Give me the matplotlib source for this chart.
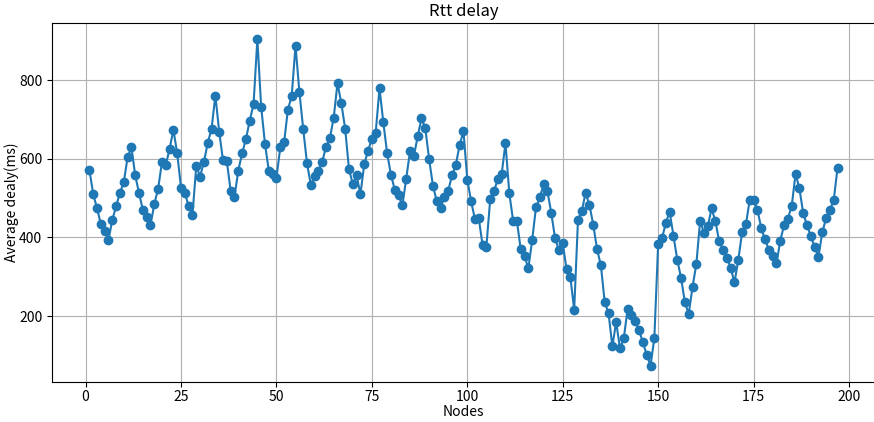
import matplotlib.pyplot as plt

plt.rcParams['font.family'] = ['Noto Sans CJK SC', 'DejaVu Sans']

# Average rtt delay per node
nodes = list(range(1, 198))
delay = [
    572, 510, 474, 434, 417, 394, 445, 480, 514, 540,
    604, 630, 558, 513, 470, 453, 432, 485, 524, 591,
    584, 625, 674, 614, 527, 514, 479, 458, 582, 555,
    593, 640, 677, 761, 669, 596, 594, 519, 503, 570,
    614, 650, 697, 739, 904, 732, 638, 570, 562, 551,
    629, 642, 725, 760, 888, 771, 677, 589, 534, 557,
    570, 593, 631, 652, 705, 793, 741, 677, 574, 536,
    558, 510, 586, 621, 650, 667, 779, 693, 614, 560,
    521, 507, 482, 550, 620, 607, 657, 703, 678, 599,
    532, 492, 476, 502, 519, 558, 585, 636, 670, 547,
    492, 447, 449, 381, 377, 497, 517, 549, 561, 640,
    513, 443, 441, 370, 352, 322, 394, 477, 502, 535,
    518, 462, 398, 367, 386, 319, 299, 216, 445, 468,
    513, 483, 432, 370, 329, 235, 208, 123, 185, 118,
    144, 218, 203, 187, 164, 133, 102, 74, 144, 383,
    398, 436, 466, 405, 344, 297, 236, 205, 274, 332,
    443, 411, 428, 474, 441, 390, 369, 349, 322, 286,
    343, 414, 434, 496, 496, 471, 424, 395, 369, 353,
    334, 392, 432, 448, 481, 562, 525, 462, 431, 403,
    375, 351, 413, 449, 470, 495, 578,
]

fig = plt.figure(figsize=(8.74, 4.22), dpi=100)
ax = fig.add_axes([0.0595, 0.0948, 0.9416, 0.8507])

ax.plot(nodes, delay, color='#1f77b4', marker='o', markersize=6, linewidth=1.5)

ax.set_title('Rtt delay', pad=5)
ax.set_xlabel('Nodes', va='center')
ax.xaxis.set_label_coords(0.5, -0.083)
ax.set_ylabel('Average dealy(ms)', labelpad=0)
ax.set_xticks([0, 25, 50, 75, 100, 125, 150, 175, 200])
ax.set_yticks([200, 400, 600, 800])
ax.tick_params(axis='x', pad=2)
ax.grid()

fig.savefig('out.png', dpi=100)
